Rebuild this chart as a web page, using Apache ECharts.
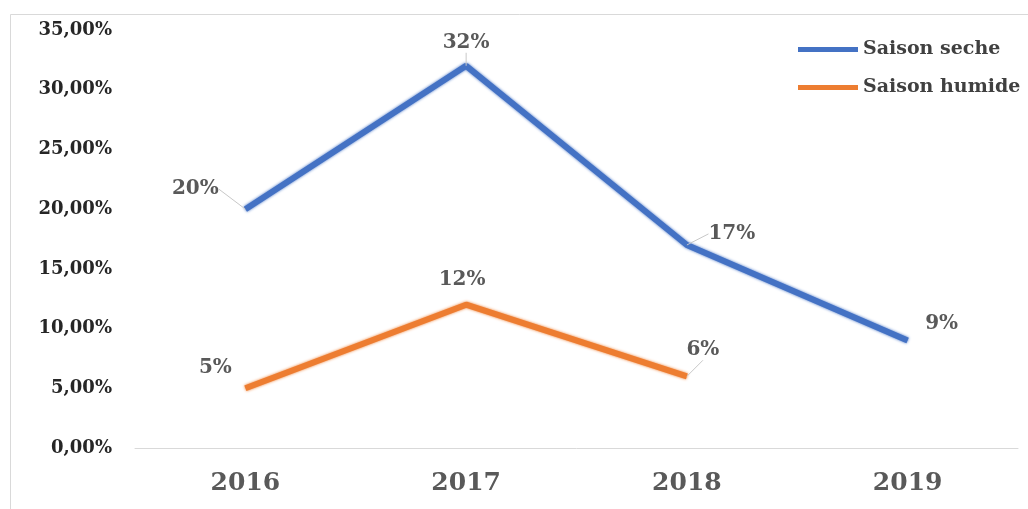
<!DOCTYPE html>
<html>
<head>
<meta charset="utf-8">
<title>Saison seche / Saison humide</title>
<script src="https://cdn.jsdelivr.net/npm/echarts@6/dist/echarts.min.js"></script>
<style>
  html, body { margin: 0; padding: 0; background: #fff; }
  #chart { width: 1028px; height: 509px; }
</style>
</head>
<body>
<div id="chart"></div>
<script>
// Years on the category axis
const years = ['2016', '2017', '2018', '2019'];
// Percentages per season (null where no value exists)
const saisonSeche = [20, 32, 17, 9];
const saisonHumide = [5, 12, 6, null];
// Value axis ticks
const yMin = 0, yMax = 35, yStep = 5;

// Label nudges (dx, dy) per series and year, relative to the 'top' position
const labelShift = [
  [[-50, -5], [0, -8], [45, 4], [34, -2]],
  [[-30, -5], [-4, -10], [16, -11], [0, 0]]
];
// Which labels get a leader line
const leader = [
  [true, true, true, false],
  [false, false, true, false]
];

const serif = '"DejaVu Serif", "Liberation Serif", serif';
const chart = echarts.init(document.getElementById('chart'), null, { renderer: 'canvas' });

function lineSeries(name, values, color, idx) {
  const data = values.map((v, i) => ({
    value: v,
    labelLine: { show: leader[idx][i] }
  }));
  return {
    name: name,
    type: 'line',
    data: data,
    showSymbol: true,
    symbol: 'circle',
    symbolSize: 0.1,
    connectNulls: false,
    lineStyle: { color: color, width: 6, shadowColor: color, shadowBlur: 3 },
    itemStyle: { color: color },
    label: {
      show: true,
      position: 'top',
      distance: 5,
      formatter: p => p.value == null ? '' : Math.round(p.value) + '%',
      fontFamily: serif,
      fontWeight: 'bold',
      fontSize: 20,
      color: '#595959'
    },
    labelLine: { show: true, lineStyle: { color: '#c8c8c8', width: 1 } },
    labelLayout: p => {
      const s = labelShift[idx][p.dataIndex] || [0, 0];
      return { dx: s[0], dy: s[1] };
    },
    emphasis: { disabled: true }
  };
}

chart.setOption({
  animation: false,
  backgroundColor: '#fff',
  graphic: [{
    type: 'rect',
    shape: { x: 10.5, y: 14.5, width: 1030, height: 510 },
    style: { fill: 'none', stroke: '#d9d9d9', lineWidth: 1 },
    silent: true
  }],
  grid: { left: 135, right: 10, top: 30, bottom: 61 },
  legend: {
    orient: 'vertical',
    left: 793,
    top: 35,
    itemWidth: 60,
    itemHeight: 5,
    itemGap: 19,
    icon: 'rect',
    textStyle: { fontFamily: serif, fontWeight: 'bold', fontSize: 19, color: '#404040' },
    data: ['Saison seche', 'Saison humide']
  },
  xAxis: {
    type: 'category',
    data: years,
    boundaryGap: true,
    axisLine: { show: true, lineStyle: { color: '#d9d9d9', width: 1 } },
    axisTick: { show: false },
    axisLabel: { margin: 23, fontFamily: serif, fontWeight: 'bold', fontSize: 25, color: '#595959' }
  },
  yAxis: {
    type: 'value',
    min: yMin,
    max: yMax,
    interval: yStep,
    axisLine: { show: false },
    axisTick: { show: false },
    splitLine: { show: false },
    axisLabel: {
      margin: 23,
      fontFamily: serif,
      fontWeight: 'bold',
      fontSize: 18,
      color: '#262626',
      formatter: v => v.toFixed(2).replace('.', ',') + '%'
    }
  },
  series: [
    lineSeries('Saison seche', saisonSeche, '#4472C4', 0),
    lineSeries('Saison humide', saisonHumide, '#ED7D31', 1)
  ]
});
</script>
</body>
</html>
